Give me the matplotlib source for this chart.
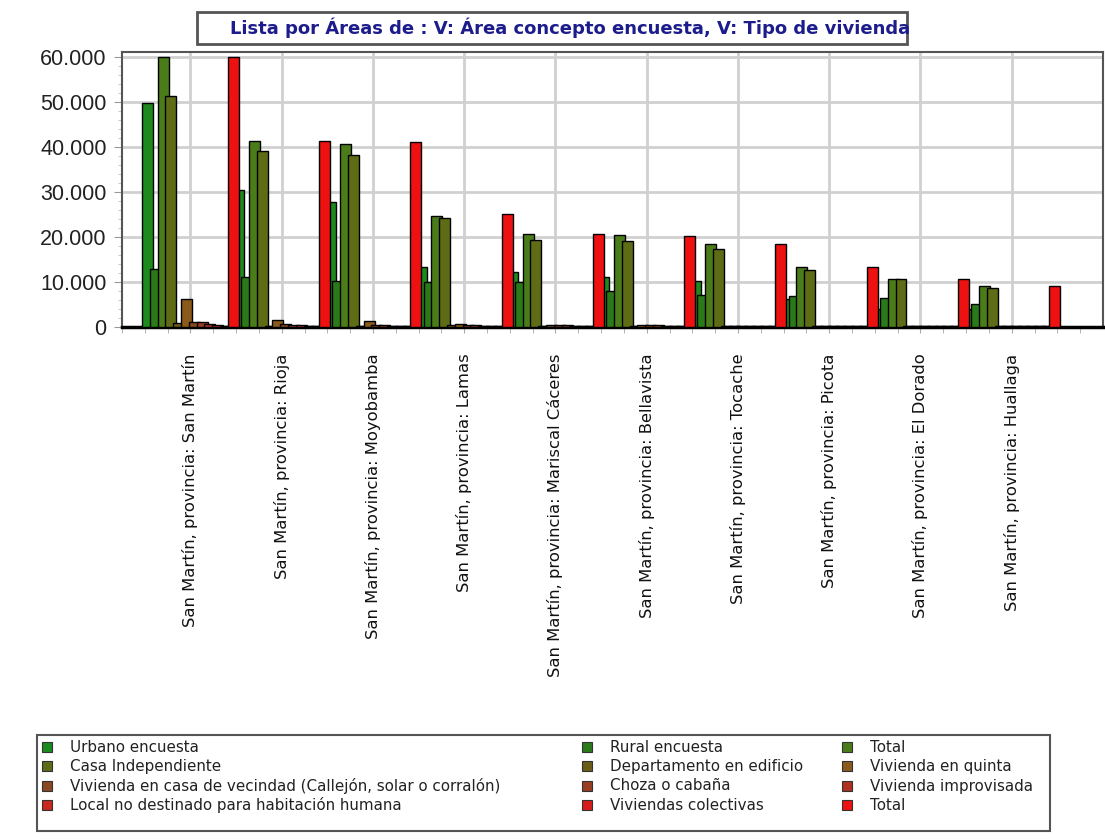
# ================================================================
# 0. Section: IMPORTS
# ================================================================
import numpy as np

from matplotlib import pyplot as plt
from matplotlib.patches import Rectangle
from matplotlib.ticker import FuncFormatter, FixedLocator, MultipleLocator



# ================================================================
# 1. Section: INPUTS
# ================================================================
CATEGORIES: list[str] = [
    "San Martín, provincia: San Martín",
    "San Martín, provincia: Rioja",
    "San Martín, provincia: Moyobamba",
    "San Martín, provincia: Lamas",
    "San Martín, provincia: Mariscal Cáceres",
    "San Martín, provincia: Bellavista",
    "San Martín, provincia: Tocache",
    "San Martín, provincia: Picota",
    "San Martín, provincia: El Dorado",
    "San Martín, provincia: Huallaga",
]

SERIES_NAMES: list[str] = [
    "Urbano encuesta",
    "Rural encuesta",
    "Total",
    "Casa Independiente",
    "Departamento en edificio",
    "Vivienda en quinta",
    "Vivienda en casa de vecindad (Callejón, solar o corralón)",
    "Choza o cabaña",
    "Vivienda improvisada",
    "Local no destinado para habitación humana",
    "Viviendas colectivas",
    "Total",
]

URBANO = [49700, 30400, 27800, 13300, 12200, 11000, 10300, 6300, 4000, 3900]
RURAL = [12900, 11100, 10300, 10000, 10000, 8000, 7100, 6900, 6500, 5200]
TOTAL_AREA = [60000, 41300, 40700, 24700, 20600, 20400, 18500, 13200, 10600, 9100]
CASA_INDEP = [51200, 39000, 38200, 24200, 19300, 19000, 17400, 12700, 10600, 8700]
DEPARTAMENTO = [900, 300, 300, 400, 300, 300, 200, 200, 200, 200]
QUINTA = [6200, 1500, 1400, 600, 500, 500, 300, 300, 300, 300]
VECINDAD = [1200, 600, 500, 500, 400, 400, 300, 300, 300, 300]
CHOZA = [1100, 500, 400, 500, 400, 400, 300, 300, 300, 300]
IMPROVISADA = [700, 400, 300, 300, 300, 300, 300, 300, 300, 300]
LOCAL = [500, 300, 300, 300, 300, 300, 300, 300, 300, 300]
COLECTIVAS = [300, 200, 200, 200, 200, 200, 200, 200, 200, 200]
TOTAL_TIPO = [60000, 41200, 41000, 25000, 20600, 20200, 18400, 13200, 10600, 9100]

COLORS: list[str] = [
    "#1c8a1c", "#2a7a1a", "#4a7d1a", "#5e6c16",
    "#6b5c18", "#8a5a1a", "#8a4820", "#9a3c20",
    "#b0301e", "#c8281e", "#d81c1c", "#ee1111",
]

TITLE: str = "Lista por Áreas de : V: Área concepto encuesta, V: Tipo de vivienda"
FONT: list[str] = ["Liberation Sans", "DejaVu Sans"]
WIDE_FONT: list[str] = ["DejaVu Sans"]



# ================================================================
# 2. Section: FUNCTIONS
# ================================================================
def draw_bars(ax, series: list, colors: list[str]):
    x = np.arange(len(CATEGORIES))
    step, width = 0.0855, 0.12

    # later series are drawn on top, so each bar covers part of the previous one
    for j, (values, color) in enumerate(zip(series, colors)):
        ax.bar(x + (j - 5.5) * step, values, width=width, color=color,
               edgecolor="black", linewidth=1.0, zorder=3)

    ax.set_xlim(-0.75, 10.0)
    ax.set_ylim(0, 61000)

def style_axes(ax):
    ax.set_xticks(np.arange(len(CATEGORIES)))
    ax.set_xticklabels(CATEGORIES, rotation=90, fontsize=11.8, va="top",
                       ha="center", family=WIDE_FONT, color="#111111")
    minor = [v for v in np.arange(-0.75, 9.76, 0.25) if abs(v - round(v)) > 1e-6]
    ax.xaxis.set_minor_locator(FixedLocator(minor))
    ax.tick_params(axis="x", which="both", length=4, color="#aaaaaa", pad=15)

    ax.yaxis.set_major_locator(MultipleLocator(10000))
    ax.yaxis.set_minor_locator(MultipleLocator(2000))
    ax.yaxis.set_major_formatter(FuncFormatter(lambda v, p: f"{v:,.0f}".replace(",", ".")))
    ax.tick_params(axis="y", which="major", length=6, color="#999999",
                   labelsize=15.5, pad=5)
    ax.tick_params(axis="y", which="minor", length=3, color="#bbbbbb")
    for lab in ax.get_yticklabels():
        lab.set_family(FONT)
        lab.set_color("#222222")

    ax.grid(True, which="major", color="#d0d0d0", linewidth=2, zorder=0)
    ax.set_axisbelow(True)
    for side in ["left", "top", "right"]:
        ax.spines[side].set_color("#555555")
        ax.spines[side].set_linewidth(1.5)
    ax.spines["bottom"].set_color("black")
    ax.spines["bottom"].set_linewidth(2.5)

def draw_title(fig):
    fig.add_artist(Rectangle((197 / 1105, 1 - 44 / 839), 710 / 1105, 32 / 839,
                             transform=fig.transFigure, facecolor="white",
                             edgecolor="#555555", linewidth=2))
    fig.text(570 / 1105, 1 - 28 / 839, TITLE, ha="center", va="center",
             fontsize=13, fontweight="bold", color="#1c1c8c", family=WIDE_FONT)

def draw_legend(fig, names: list[str], colors: list[str]):
    fig.add_artist(Rectangle((37 / 1105, 1 - 831 / 839), 1013 / 1105, 96 / 839,
                             transform=fig.transFigure, facecolor="white",
                             edgecolor="#555555", linewidth=1.5))
    col_x = [42, 582, 842]
    row_y = [747, 766, 786, 805]
    for i, (name, color) in enumerate(zip(names, colors)):
        row, col = divmod(i, 3)
        x, y = col_x[col], row_y[row]
        fig.add_artist(Rectangle((x / 1105, 1 - (y + 5) / 839), 10 / 1105, 10 / 839,
                                 transform=fig.transFigure, facecolor=color,
                                 edgecolor="#333333", linewidth=0.8))
        fig.text((x + 28) / 1105, 1 - y / 839, name, ha="left", va="center",
                 fontsize=10.9, color="#222222", family=WIDE_FONT)



# ================================================================
# 3. Section: MAIN
# ================================================================
if __name__ == '__main__':
    series = [URBANO, RURAL, TOTAL_AREA, CASA_INDEP, DEPARTAMENTO, QUINTA,
              VECINDAD, CHOZA, IMPROVISADA, LOCAL, COLECTIVAS, TOTAL_TIPO]

    fig = plt.figure(figsize=(11.05, 8.39), dpi=100)
    ax = fig.add_axes([122 / 1105, 1 - 327 / 839, 981 / 1105, 275 / 839])

    draw_bars(ax, series, COLORS)
    style_axes(ax)
    draw_title(fig)
    draw_legend(fig, SERIES_NAMES, COLORS)

    fig.savefig("out.png", dpi=100)
